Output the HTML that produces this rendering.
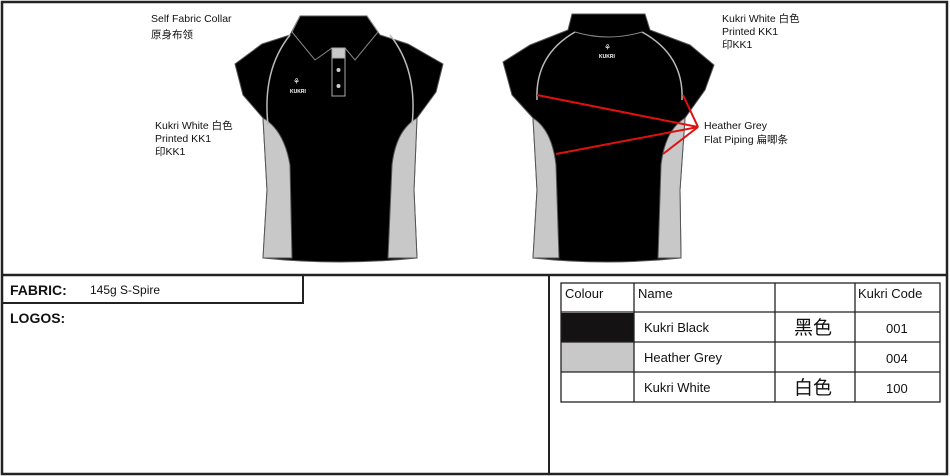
<!DOCTYPE html>
<html><head><meta charset="utf-8"><style>
body{margin:0;background:#fff}
svg{display:block}
text{font-family:"Liberation Sans","Noto Sans CJK SC",sans-serif;fill:#111}
</style></head><body>
<svg width="950" height="476" viewBox="0 0 950 476" xmlns="http://www.w3.org/2000/svg">
<rect x="0" y="0" width="950" height="476" fill="#fff"/>
<!-- frame -->
<rect x="2" y="2" width="945" height="472" fill="none" stroke="#222" stroke-width="2.5"/>
<line x1="2" y1="275" x2="947" y2="275" stroke="#222" stroke-width="2.5"/>
<line x1="549" y1="275" x2="549" y2="474" stroke="#222" stroke-width="2"/>
<rect x="2" y="275" width="301" height="28" fill="none" stroke="#222" stroke-width="2"/>

<!-- FRONT SHIRT -->
<g stroke="#555" stroke-width="1">
<path d="M300,16 L367,16 L380,35 L408,44 L443,64 L436,92 L417,118 L414,190 L417,258 Q340,266 263,258 L267,190 L263,118 L243,95 L235,64 L262,44 L290,35 Z" fill="#000"/>
<path d="M263,118 Q284,130 290,165 L292,258 L263,258 L267,190 Z" fill="#c8c8c8"/>
<path d="M417,118 Q396,130 392,165 L388,258 L417,258 L414,190 Z" fill="#c8c8c8"/>
<path d="M300,16 L292,32 L315,60 L332,48 L345,48 L355,60 L378,32 L367,16" fill="none" stroke="#888"/>
<rect x="332" y="48" width="13" height="48" fill="#000" stroke="#aaa"/>
<path d="M332,48 L345,48 L345,58 L332,58Z" fill="#c8c8c8" stroke="#aaa"/>
</g>
<path d="M268,125 Q262,70 290,35" fill="none" stroke="#bbb" stroke-width="1.5"/>
<path d="M412,125 Q418,70 390,35" fill="none" stroke="#bbb" stroke-width="1.5"/>
<circle cx="338.5" cy="70" r="2" fill="#ccc"/><circle cx="338.5" cy="86" r="2" fill="#ccc"/>
<text x="293" y="84" font-size="8" style="fill:#fff">⚘</text>
<text x="290" y="93" font-size="5" font-weight="bold" style="fill:#fff">KUKRI</text>

<!-- BACK SHIRT -->
<g stroke="#555" stroke-width="1">
<path d="M572,14 L645,14 L650,30 L690,45 L714,65 L705,90 L685,118 L680,190 L681,258 Q607,266 533,258 L537,190 L533,118 L512,95 L503,62 L530,45 L568,30 Z" fill="#000"/>
<path d="M533,118 Q552,130 556,165 L559,258 L533,258 L537,190 Z" fill="#c8c8c8"/>
<path d="M685,118 Q665,130 661,165 L658,258 L681,258 L680,190 Z" fill="#c8c8c8"/>
</g>
<path d="M537,100 Q535,55 575,32" fill="none" stroke="#bbb" stroke-width="1.5"/>
<path d="M682,100 Q684,55 642,32" fill="none" stroke="#bbb" stroke-width="1.5"/>
<path d="M575,32 Q608,42 642,32" fill="none" stroke="#888"/>
<text x="604" y="50" font-size="8" style="fill:#fff">⚘</text>
<text x="599" y="58" font-size="5" font-weight="bold" style="fill:#fff">KUKRI</text>

<!-- red lines -->
<g stroke="#e01010" stroke-width="2" fill="none">
<line x1="537" y1="95" x2="698" y2="127"/>
<line x1="556" y1="154" x2="698" y2="127"/>
<line x1="683" y1="95" x2="698" y2="127"/>
<line x1="663" y1="154" x2="698" y2="127"/>
</g>

<!-- labels -->
<g font-size="10.5">
<text x="151" y="22">Self Fabric Collar</text>
<text x="151" y="38">原身布领</text>
<text x="155" y="129">Kukri White  白色</text>
<text x="155" y="142">Printed KK1</text>
<text x="155" y="155">印KK1</text>
<text x="722" y="22">Kukri White  白色</text>
<text x="722" y="35">Printed KK1</text>
<text x="722" y="48">印KK1</text>
<text x="704" y="129">Heather Grey</text>
<text x="704" y="143">Flat Piping   扁唧条</text>
</g>

<text x="10" y="295" font-size="14" font-weight="bold">FABRIC:</text>
<text x="90" y="294" font-size="12">145g S-Spire</text>
<text x="10" y="323" font-size="14" font-weight="bold">LOGOS:</text>

<!-- table -->
<rect x="561" y="313" width="73" height="29" fill="#141212"/>
<rect x="561" y="342" width="73" height="30" fill="#c8c8c8"/>
<g stroke="#222" stroke-width="1.3" fill="none">
<rect x="561" y="283" width="379" height="119"/>
<line x1="634" y1="283" x2="634" y2="402"/>
<line x1="775" y1="283" x2="775" y2="402"/>
<line x1="855" y1="283" x2="855" y2="402"/>
<line x1="561" y1="312" x2="940" y2="312"/>
<line x1="561" y1="342" x2="940" y2="342"/>
<line x1="561" y1="372" x2="940" y2="372"/>
</g>
<g font-size="13">
<text x="565" y="298">Colour</text>
<text x="638" y="298">Name</text>
<text x="858" y="298">Kukri Code</text>
<text x="644" y="332">Kukri Black</text>
<text x="644" y="362">Heather Grey</text>
<text x="644" y="392">Kukri White</text>
<text x="886" y="333">001</text>
<text x="886" y="363">004</text>
<text x="886" y="393">100</text>
<text x="794" y="334" font-size="19" font-family="Noto Serif CJK SC,serif">黑色</text>
<text x="794" y="394" font-size="19" font-family="Noto Serif CJK SC,serif">白色</text>
</g>
</svg>
</body></html>
